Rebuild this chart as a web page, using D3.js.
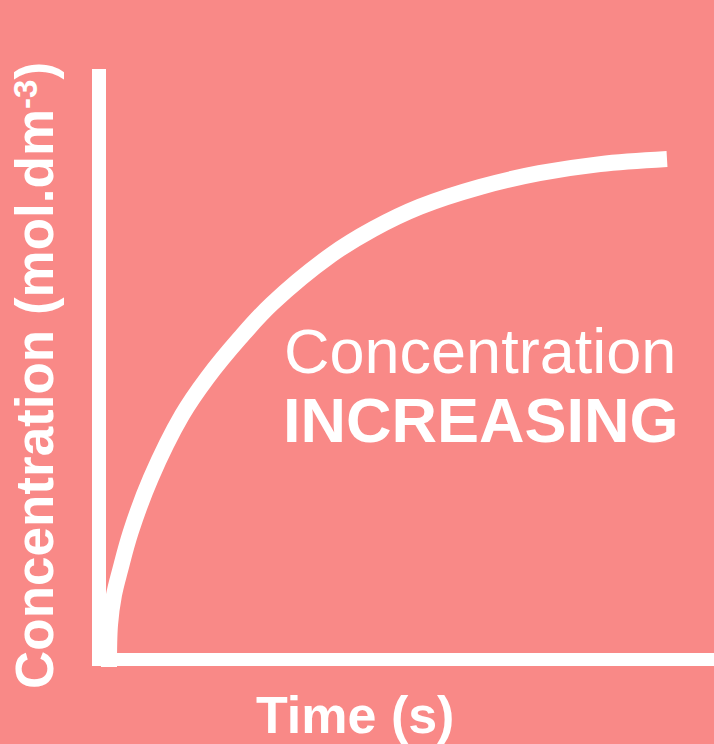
<!DOCTYPE html>
<html>
<head>
<meta charset="utf-8">
<script src="https://cdn.jsdelivr.net/npm/d3@7"></script>
<style>
  html, body { margin: 0; padding: 0; background: #F98987; }
  svg { display: block; }
  text { font-family: "Liberation Sans", Arial, sans-serif; fill: #ffffff; }
</style>
</head>
<body>
<svg id="chart" width="714" height="744"></svg>
<script>
// Data (time and concentration in relative units, 0–100)
const timeValues = [0, 0.18, 0.9, 2.0, 3.9, 7.5, 13.1, 17.6, 23.5, 29.2, 39.8, 47.3, 55.7, 66.5, 77.1, 88.0, 100];
const concValues = [0, 8.3, 14.2, 19.1, 26.6, 37.2, 49.6, 56.9, 64.8, 71.5, 81.1, 86.2, 90.6, 94.5, 97.2, 99.0, 100];
const xTitle = "Time (s)";
const yTitleMain = "Concentration (mol.dm";
const yTitleSup = "-3";
const yTitleEnd = ")";
const labelLines = ["Concentration", "INCREASING"];

const W = 714, H = 744;
const svg = d3.select("#chart");

svg.append("rect").attr("width", W).attr("height", H).attr("fill", "#F98987");

// Scales
const x = d3.scaleLinear().domain([0, 100]).range([109, 667]);
const y = d3.scaleLinear().domain([0, 100]).range([667, 159]);

// Axes: plain thick white lines, no ticks
const xAxisScale = d3.scaleLinear().domain([0, 1]).range([92, 714]);
const yAxisScale = d3.scaleLinear().domain([0, 1]).range([666, 69]);

const gx = svg.append("g")
  .attr("transform", "translate(0,659.5)")
  .call(d3.axisBottom(xAxisScale).tickValues([]).tickSizeOuter(0));
gx.select(".domain").attr("stroke", "#fff").attr("stroke-width", 13)
  .attr("d", `M${xAxisScale.range()[0]},0H${xAxisScale.range()[1]}`);

const gy = svg.append("g")
  .attr("transform", "translate(99,0)")
  .call(d3.axisLeft(yAxisScale).tickValues([]).tickSizeOuter(0));
gy.select(".domain").attr("stroke", "#fff").attr("stroke-width", 14)
  .attr("d", `M0,${yAxisScale.range()[0]}V${yAxisScale.range()[1]}`);

// Curve
const data = timeValues.map((t, i) => ({ t, c: concValues[i] }));
const line = d3.line()
  .x(d => x(d.t))
  .y(d => y(d.c))
  .curve(d3.curveCatmullRom.alpha(0.5));

svg.append("path")
  .datum(data)
  .attr("d", line)
  .attr("fill", "none")
  .attr("stroke", "#fff")
  .attr("stroke-width", 16)
  .attr("stroke-linecap", "butt");

// X axis title
svg.append("text")
  .attr("x", 256).attr("y", 733)
  .attr("font-size", 52).attr("font-weight", "bold")
  .text(xTitle);

// Y axis title (rotated)
const yt = svg.append("text")
  .attr("transform", "translate(53,689) rotate(-90)")
  .attr("font-size", 53).attr("font-weight", "bold");
yt.append("tspan").text(yTitleMain);
yt.append("tspan").attr("font-size", 33).attr("dy", -16).text(yTitleSup);
yt.append("tspan").attr("dy", 16).text(yTitleEnd);

// In-plot label
svg.append("text")
  .attr("x", 284).attr("y", 373)
  .attr("font-size", 63)
  .text(labelLines[0]);
svg.append("text")
  .attr("x", 283).attr("y", 442)
  .attr("font-size", 63).attr("font-weight", "bold")
  .text(labelLines[1]);
</script>
</body>
</html>
